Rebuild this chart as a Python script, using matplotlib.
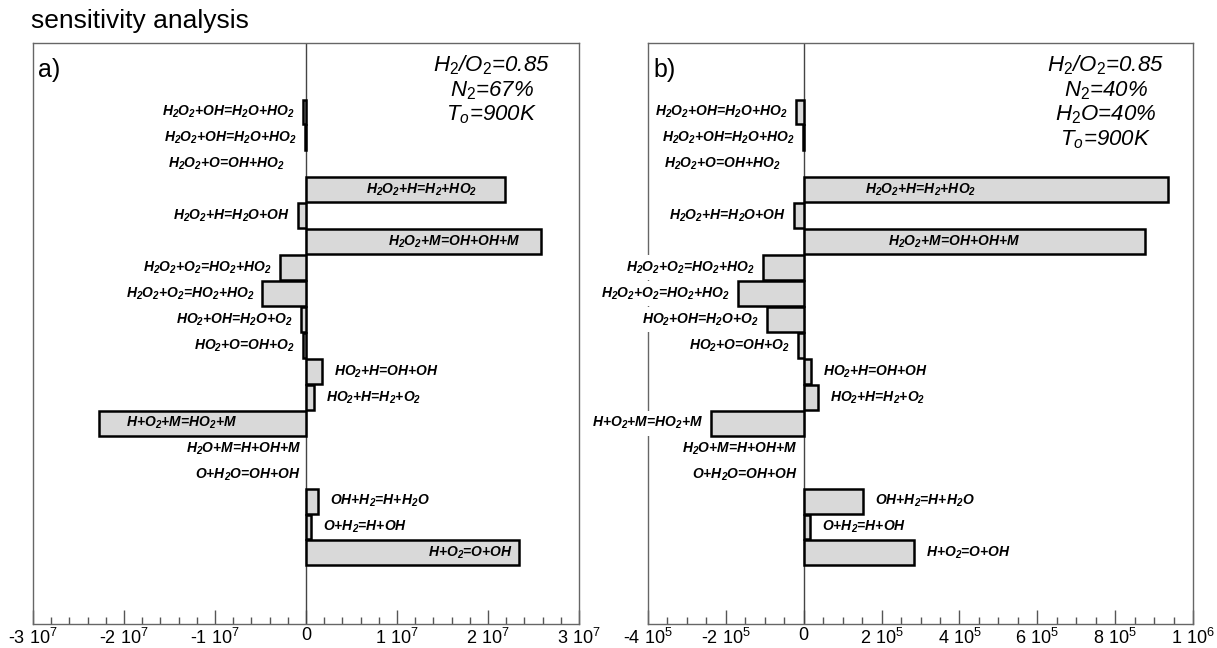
import re
import matplotlib
matplotlib.use("Agg")
import matplotlib.pyplot as plt

plt.rcParams['font.family'] = ['Liberation Sans', 'DejaVu Sans']
plt.rcParams['mathtext.fontset'] = 'custom'
plt.rcParams['mathtext.rm'] = 'Liberation Sans'
plt.rcParams['mathtext.it'] = 'Liberation Sans:italic'
plt.rcParams['mathtext.bf'] = 'Liberation Sans:bold:italic'

# reactions, top to bottom
reactions = [
    "H2O2+OH=H2O+HO2", "H2O2+OH=H2O+HO2", "H2O2+O=OH+HO2", "H2O2+H=H2+HO2",
    "H2O2+H=H2O+OH", "H2O2+M=OH+OH+M", "H2O2+O2=HO2+HO2", "H2O2+O2=HO2+HO2",
    "HO2+OH=H2O+O2", "HO2+O=OH+O2", "HO2+H=OH+OH", "HO2+H=H2+O2",
    "H+O2+M=HO2+M", "H2O+M=H+OH+M", "O+H2O=OH+OH", "OH+H2=H+H2O",
    "O+H2=H+OH", "H+O2=O+OH",
]

# sensitivity coefficients
sens_a = [-3.0e5, -1.0e5, 0.0, 2.19e7, -9.0e5, 2.58e7, -2.9e6, -4.8e6,
          -5.5e5, -3.6e5, 1.75e6, 9.0e5, -2.27e7, 0.0, 0.0, 1.3e6,
          6.0e5, 2.34e7]
sens_b = [-1.9e4, -2.0e3, 0.0, 9.35e5, -2.6e4, 8.77e5, -1.05e5, -1.7e5,
          -9.5e4, -1.5e4, 1.9e4, 3.6e4, -2.37e5, 0.0, 0.0, 1.53e5,
          1.6e4, 2.84e5]

ticks_a = [-3e7, -2e7, -1e7, 0, 1e7, 2e7, 3e7]
ticklabels_a = ["-3 10$^7$", "-2 10$^7$", "-1 10$^7$", "0",
                "1 10$^7$", "2 10$^7$", "3 10$^7$"]
ticks_b = [-4e5, -2e5, 0, 2e5, 4e5, 6e5, 8e5, 1e6]
ticklabels_b = ["-4 10$^5$", "-2 10$^5$", "0", "2 10$^5$", "4 10$^5$",
                "6 10$^5$", "8 10$^5$", "1 10$^6$"]

notes_a = "H$_\\mathit{2}$/O$_\\mathit{2}$=0.85\nN$_\\mathit{2}$=67%\nT$_\\mathit{o}$=900K"
notes_b = ("H$_\\mathit{2}$/O$_\\mathit{2}$=0.85\nN$_\\mathit{2}$=40%\n"
           "H$_\\mathit{2}$O=40%\nT$_\\mathit{o}$=900K")

# labels drawn inside bars: row -> fraction of bar length for label centre
inside_a = {3: 0.58, 5: 0.63, 12: 0.6, 17: 0.77}
inside_b = {3: 0.32, 5: 0.44}
pad_a = {2: -21, 13: -5, 14: -5}
pad_b = {2: -23, 13: -6, 14: -6}


def fmt(r):
    return re.sub(r"(\d)", r"$_\\mathbf{\1}$", r)


def panel(ax, vals, ticks, ticklabels, xlim, minor, letter, notes, inside, pads):
    rows = list(range(len(reactions)))
    ax.axvline(0, color="#444444", lw=1.0, zorder=2)
    keep = [i for i in rows if vals[i] != 0]
    ax.barh([rows[i] for i in keep], [vals[i] for i in keep], height=0.96,
            color="#d9d9d9", edgecolor="black", linewidth=1.8, zorder=4)
    for i in rows:
        v = vals[i]
        if i in inside:
            ax.text(v * inside[i], i, fmt(reactions[i]), ha="center", va="center",
                    fontsize=10, fontweight="bold", fontstyle="italic", zorder=5)
        elif v > 0:
            ax.annotate(fmt(reactions[i]), (v, i), xytext=(12, 0),
                        textcoords="offset pixels", ha="left", va="center",
                        fontsize=10, fontweight="bold", fontstyle="italic",
                        annotation_clip=False, zorder=3,
                        bbox=dict(facecolor="white", edgecolor="none", pad=3))
        else:
            ax.annotate(fmt(reactions[i]), (v, i), xytext=(pads.get(i, -8), 0),
                        textcoords="offset pixels", ha="right", va="center",
                        fontsize=10, fontweight="bold", fontstyle="italic",
                        annotation_clip=False, zorder=3,
                        bbox=dict(facecolor="white", edgecolor="none", pad=3))
    ax.set_xlim(*xlim)
    ax.set_ylim(19.74, -2.66)
    ax.set_yticks([])
    ax.set_xticks(ticks)
    ax.set_xticklabels(ticklabels, fontsize=13)
    ax.xaxis.set_minor_locator(matplotlib.ticker.MultipleLocator(minor))
    ax.tick_params(axis="x", which="major", direction="in", length=10,
                   width=1, color="#555555", pad=2.5)
    ax.tick_params(axis="x", which="minor", direction="in", length=5,
                   width=1, color="#555555")
    for s in ax.spines.values():
        s.set_color("#666666")
        s.set_linewidth(1.0)
    ax.text(0.01, 0.975, letter, transform=ax.transAxes, ha="left", va="top",
            fontsize=18)
    ax.text(0.84, 0.982, notes, transform=ax.transAxes, ha="center", va="top",
            fontsize=16, fontstyle="italic", linespacing=1.12,
            multialignment="center")


fig = plt.figure(figsize=(12.17, 6.48), dpi=100)
W, H = 1217, 648
ax1 = fig.add_axes([33 / W, 1 - 624 / H, 546 / W, 581 / H])
ax2 = fig.add_axes([648 / W, 1 - 624 / H, 545 / W, 581 / H])

panel(ax1, sens_a, ticks_a, ticklabels_a, (-3e7, 3e7), 2e6, "a)", notes_a,
      inside_a, pad_a)
panel(ax2, sens_b, ticks_b, ticklabels_b, (-4e5, 1e6), 5e4, "b)", notes_b,
      inside_b, pad_b)

fig.text(31 / W, 1 - 21 / H, "sensitivity analysis", ha="left", va="center",
         fontsize=19)

fig.savefig("out.png", dpi=100)
